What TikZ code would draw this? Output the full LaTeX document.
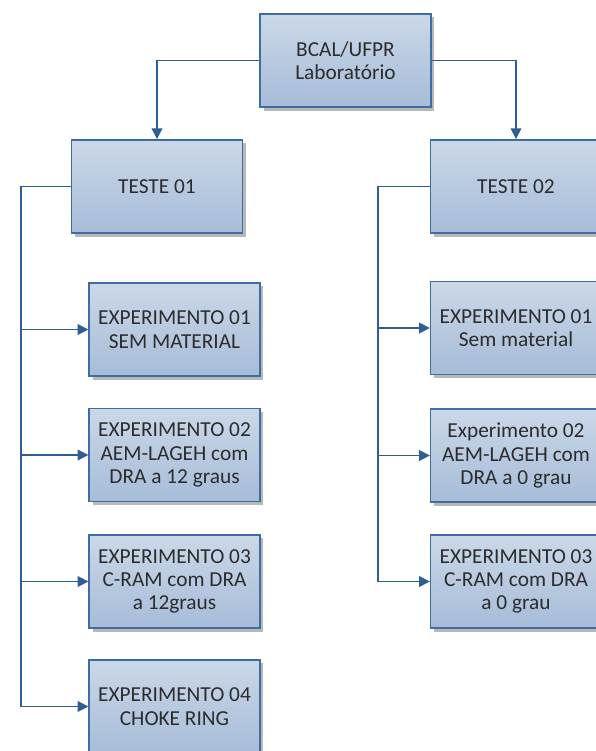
\documentclass[tikz,border=0pt]{standalone}
\usepackage{fontspec}
\setmainfont{Carlito}
\usetikzlibrary{positioning, shadows, arrows.meta}
\definecolor{caixaborda}{HTML}{3E6DA4}
\definecolor{caixatopo}{HTML}{CBD8E8}
\definecolor{caixabase}{HTML}{A6BCD8}
\definecolor{linha}{HTML}{2F5E93}
\definecolor{texto}{HTML}{2C2C2C}

\begin{document}
\begin{tikzpicture}[x=0.75pt, y=-0.75pt,
    caixa/.style={draw=caixaborda, line width=1.2pt, top color=caixatopo, bottom color=caixabase,
        minimum width=128pt, minimum height=70pt, inner sep=0pt, align=center, text=texto,
        font=\fontsize{16}{17.5}\selectfont,
        drop shadow={shadow xshift=2.5pt, shadow yshift=-2.5pt, fill=black!35, opacity=0.8}},
    seta/.style={draw=linha, line width=1.1pt, -{Triangle[length=8pt, width=8pt]}}]
    \useasboundingbox (0,0) rectangle (596,751);
    \clip (0,0) rectangle (596,751);

    % Draw the laboratory box on top
    \node[caixa] (lab) at (345.5,60.5) {BCAL/UFPR\\Laboratório};

    % Draw the two test boxes
    \node[caixa] (t1) at (157,186.5) {TESTE 01};
    \node[caixa] (t2) at (516,186.5) {TESTE 02};

    % Draw the experiments of the first test
    \node[caixa] (e11) at (174.5,329.5) {EXPERIMENTO 01\\SEM MATERIAL};
    \node[caixa] (e12) at (174.5,455) {EXPERIMENTO 02\\AEM-LAGEH com\\DRA a 12 graus};
    \node[caixa] (e13) at (174.5,581.5) {EXPERIMENTO 03\\C-RAM com DRA\\a 12graus};
    \node[caixa] (e14) at (174.5,706.5) {EXPERIMENTO 04\\CHOKE RING};

    % Draw the experiments of the second test
    \node[caixa] (e21) at (516,328) {EXPERIMENTO 01\\Sem material};
    \node[caixa] (e22) at (516,455.5) {Experimento 02\\AEM-LAGEH com\\DRA a 0 grau};
    \node[caixa] (e23) at (516,581.5) {EXPERIMENTO 03\\C-RAM com DRA\\a 0 grau};

    % Draw the arrows from the laboratory to the tests
    \draw[seta] (lab.west) -| (t1.north);
    \draw[seta] (lab.east) -| (t2.north);

    % Draw the arrows from each test to its experiments
    \coordinate (ramo1) at (21,186.5);
    \coordinate (ramo2) at (378,186.5);
    \draw[seta] (t1.west) -- (ramo1) |- (e14.west);
    \foreach \e in {e11,e12,e13}
        \draw[seta] (ramo1 |- \e.west) -- (\e.west);
    \draw[seta] (t2.west) -- (ramo2) |- (e23.west);
    \foreach \e in {e21,e22}
        \draw[seta] (ramo2 |- \e.west) -- (\e.west);
\end{tikzpicture}
\end{document}
